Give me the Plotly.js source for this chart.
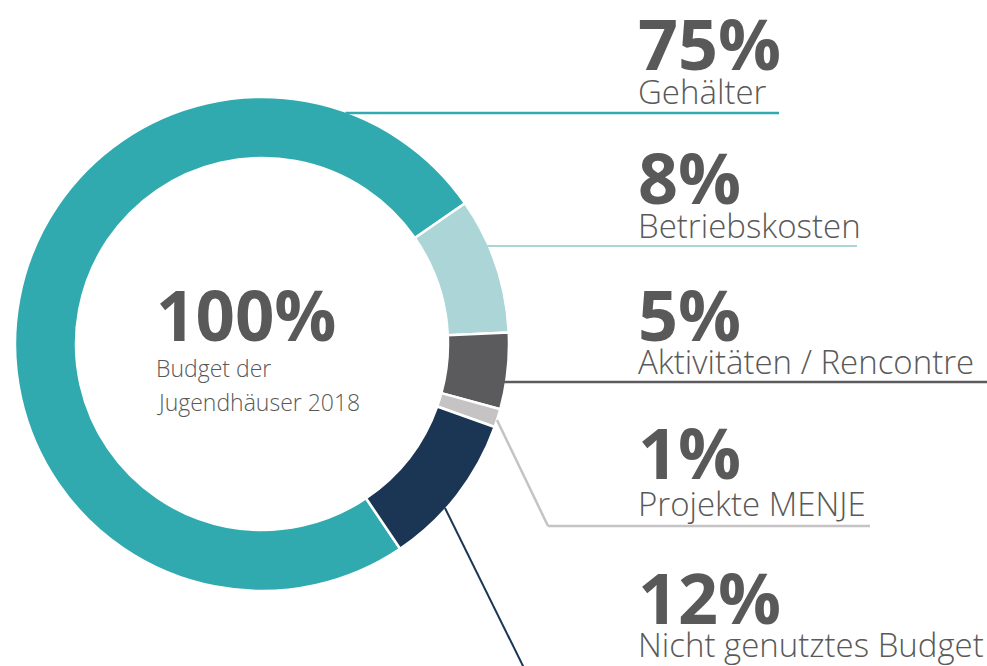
<!DOCTYPE html>
<html>
<head>
<meta charset="utf-8">
<script src="https://cdn.plot.ly/plotly-3.0.1.min.js"></script>
<style>
  html, body { margin: 0; padding: 0; background: #ffffff; }
  #chart { width: 987px; height: 666px; }
</style>
</head>
<body>
<div id="chart"></div>
<script>
// ---- data ----
const categories = ['Gehälter', 'Betriebskosten', 'Aktivitäten / Rencontre', 'Projekte MENJE', 'Nicht genutztes Budget'];
const shares = [74.8, 8.9, 5.0, 1.2, 10.1];
const percentLabels = ['75%', '8%', '5%', '1%', '12%'];
const centerValue = '100%';
const centerLabel = ['Budget der', 'Jugendhäuser 2018'];
const sliceColors = ['#31AAAF', '#ACD5D8', '#5B5B5D', '#C5C3C4', '#1B3654'];

// ---- layout geometry (pixels) ----
const W = 987, H = 666;
const cx = 262, cy = 344, R = 247;
const px = x => x / W;
const py = y => 1 - y / H;

const textColor = '#595959';
const FONT = '"Open Sans", "Noto Sans", sans-serif';
const ASC = 1.069; // Open Sans ascent (em)

const bigSize = 70, labelSize = 33;
const blockX = 636;
const bigBase = [69, 203, 340, 478, 623];
const labelBase = [103, 237, 373, 515, 656];

const annotations = [];
function addText(text, x, baseline, size, weight) {
  annotations.push({
    xref: 'paper', yref: 'paper',
    x: px(x), y: py(baseline - ASC * size - 1),
    xanchor: 'left', yanchor: 'top',
    text: text,
    showarrow: false,
    font: { family: FONT, size: size, color: textColor, weight: weight },
    align: 'left'
  });
}
percentLabels.forEach((p, i) => {
  addText(p, blockX, bigBase[i], bigSize, 700);
  addText(categories[i], blockX, labelBase[i], labelSize, 300);
});
addText(centerValue, 154, 340, 69, 700);
addText(centerLabel[0], 154, 376, 23, 300);
addText(centerLabel[1], 154, 410, 23, 300);

// leader lines
const shapes = [];
function seg(x0, y0, x1, y1, color, w) {
  shapes.push({ type: 'line', xref: 'paper', yref: 'paper',
    x0: px(x0), y0: py(y0), x1: px(x1), y1: py(y1),
    line: { color: color, width: w } });
}
function edgeX(y) { return cx + Math.sqrt(R * R - (cy - y) * (cy - y)); }
seg(edgeX(113) - 4, 113, 779, 113, sliceColors[0], 2.5);
seg(edgeX(246) - 2, 246, 857, 246, sliceColors[1], 2);
seg(edgeX(382) - 2, 382, 987, 382, sliceColors[2], 2.5);
seg(497, 420, 548, 526, sliceColors[3], 2.5);
seg(548, 526, 870, 526, sliceColors[3], 2.5);
seg(445, 508, 524, 668, sliceColors[4], 2);

const trace = {
  type: 'pie',
  labels: categories,
  values: shares,
  sort: false,
  direction: 'clockwise',
  rotation: 146,
  hole: 0.753,
  textinfo: 'none',
  hoverinfo: 'label+percent',
  marker: { colors: sliceColors, line: { color: '#ffffff', width: 2.5 } },
  domain: { x: [px(cx - R), px(cx + R)], y: [py(cy + R), py(cy - R)] },
  showlegend: false
};

const layout = {
  width: W, height: H,
  margin: { l: 0, r: 0, t: 0, b: 0 },
  paper_bgcolor: '#ffffff',
  plot_bgcolor: '#ffffff',
  showlegend: false,
  annotations: annotations,
  shapes: shapes
};

Plotly.newPlot('chart', [trace], layout, { displayModeBar: false, staticPlot: true });
</script>
</body>
</html>
